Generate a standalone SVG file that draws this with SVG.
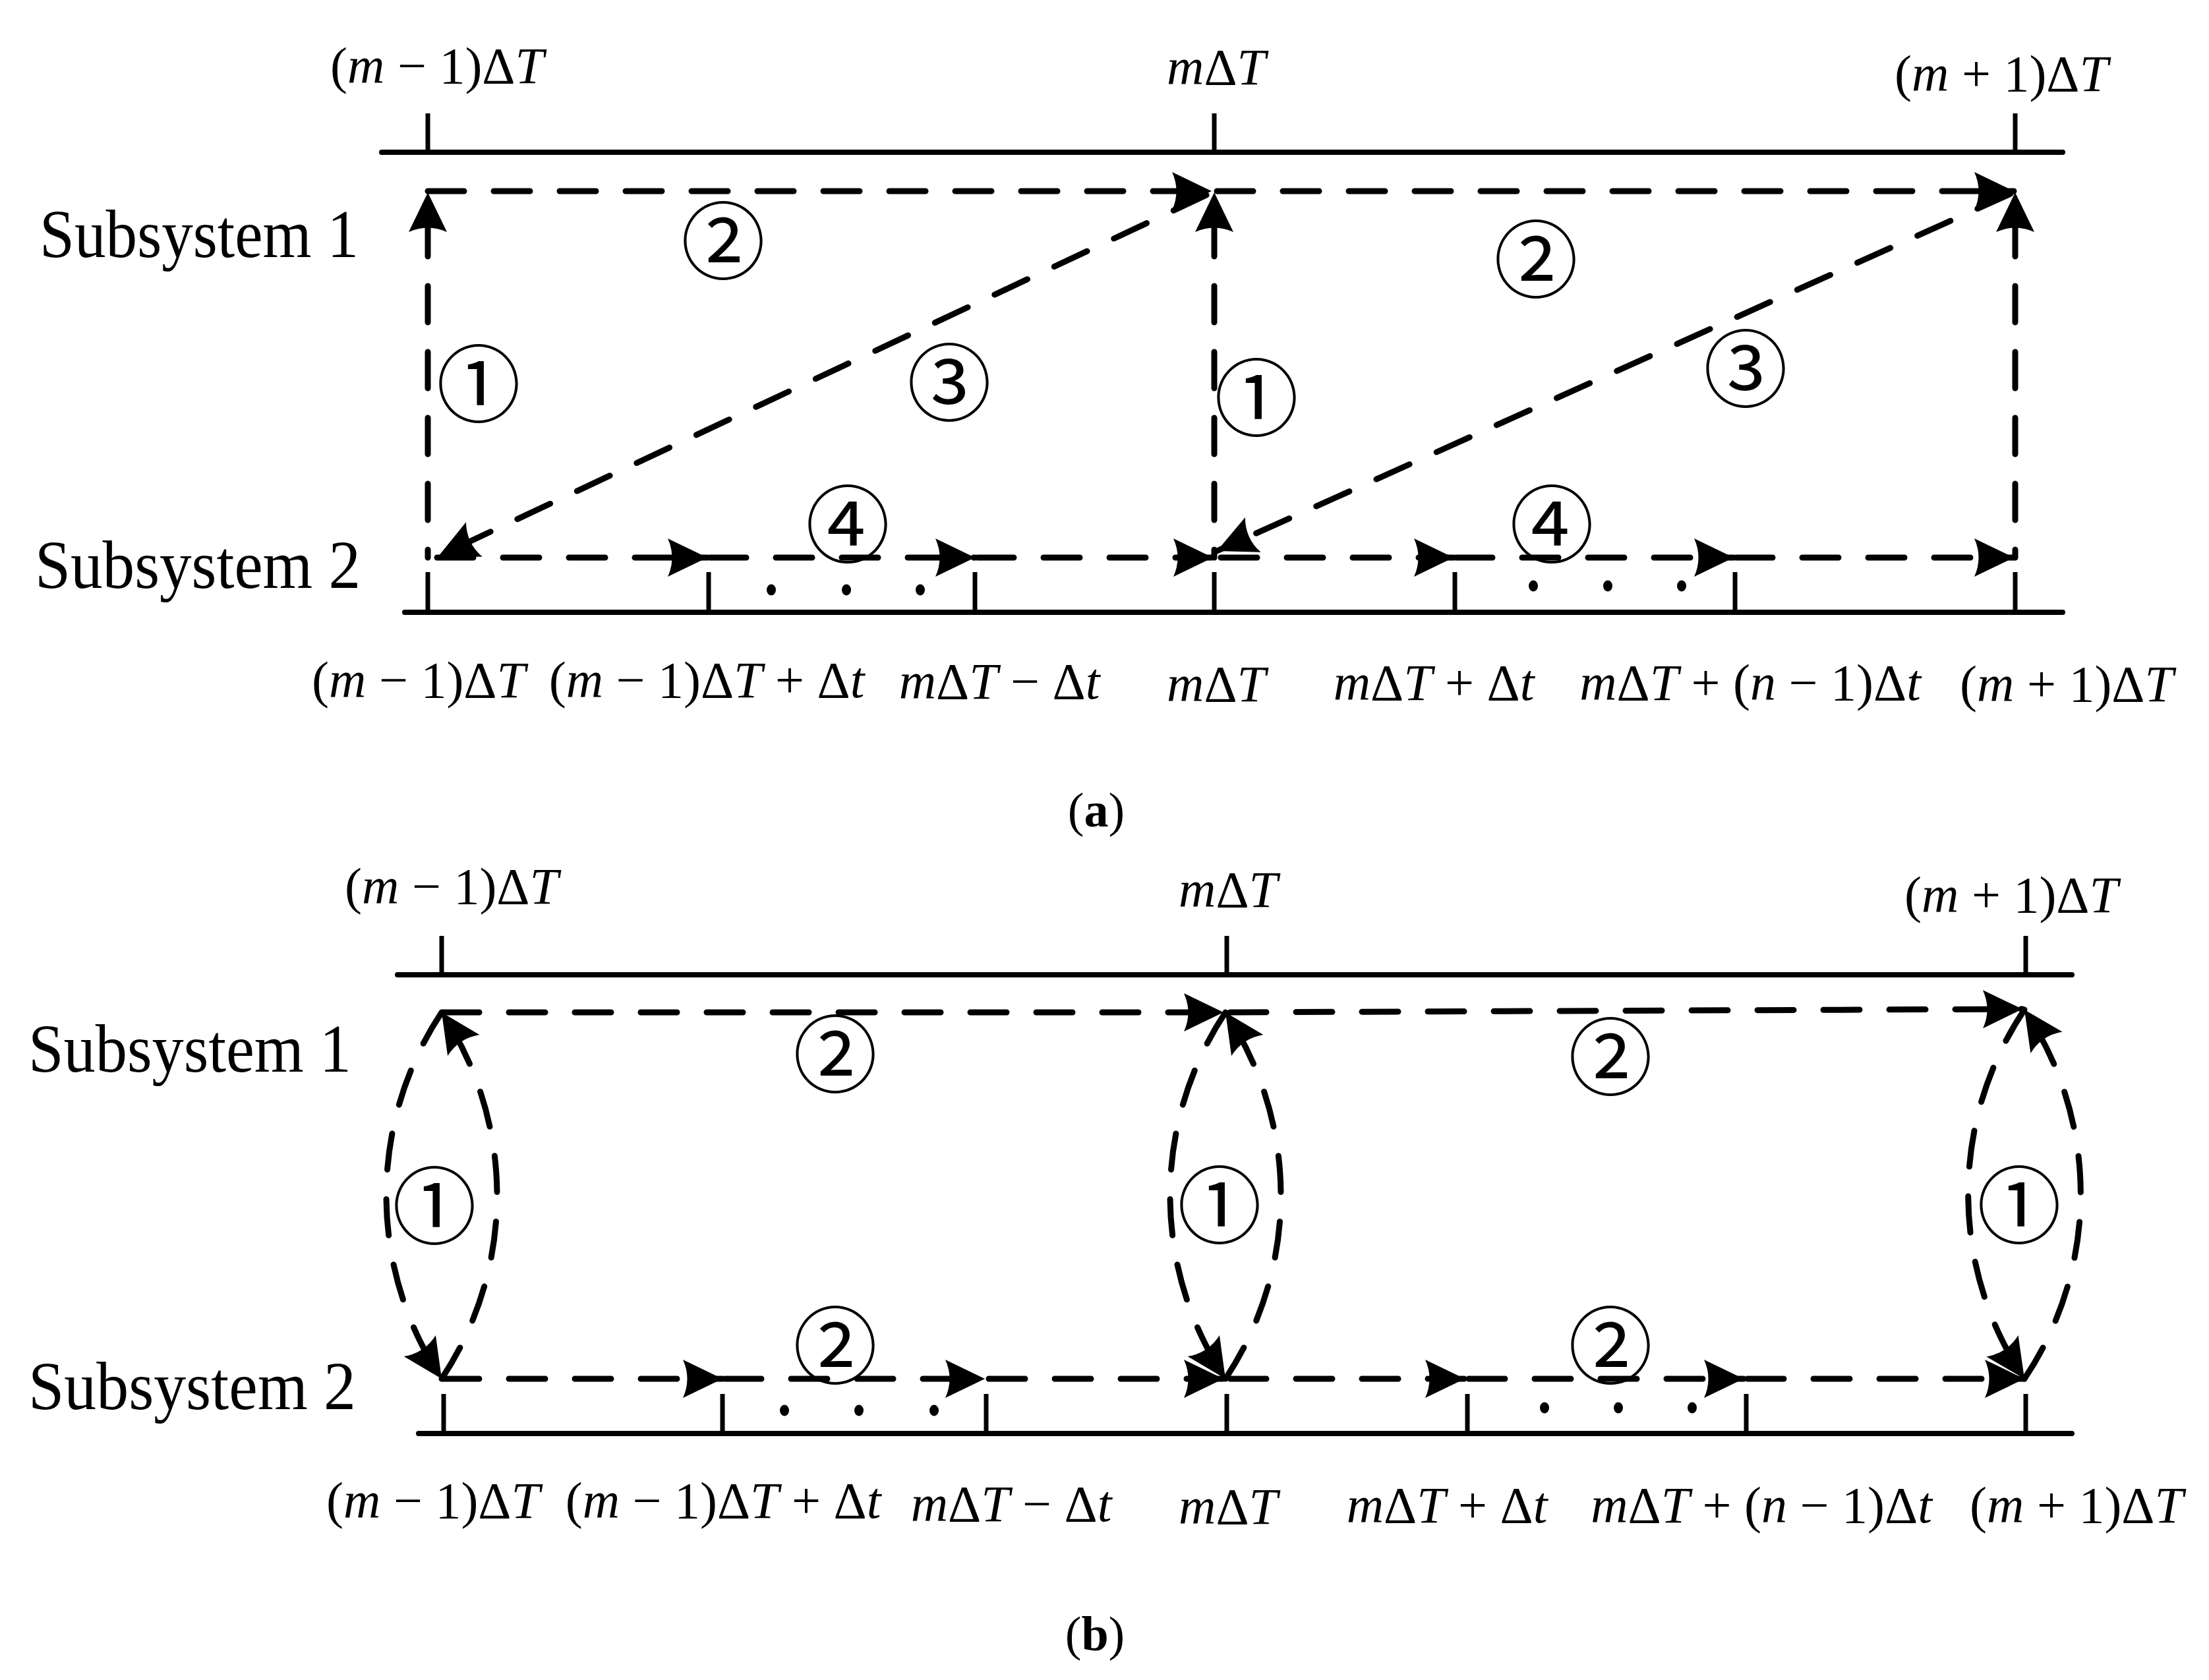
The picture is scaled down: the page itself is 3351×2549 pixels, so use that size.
<svg xmlns="http://www.w3.org/2000/svg" width="3351" height="2549" viewBox="0 0 3351 2549">
<style>
.ax{fill:none;stroke:#000;stroke-width:8;stroke-linecap:round}
.tk{fill:none;stroke:#000;stroke-width:7}
.d{fill:none;stroke:#000;stroke-width:9;stroke-dasharray:55 45;stroke-linecap:round;marker-end:url(#ah)}
.t{font-family:"Liberation Serif","Times New Roman",serif;font-size:78px;fill:#000;text-anchor:middle}
.it{font-style:italic}
.sub{font-family:"Liberation Serif","Times New Roman",serif;font-size:104px;fill:#000}
.cap{font-family:"Liberation Serif","Times New Roman",serif;font-size:74px;fill:#000;text-anchor:middle}
.n{font-family:"Noto Sans CJK SC","DejaVu Sans",sans-serif;font-size:128px;fill:#000;text-anchor:middle;dominant-baseline:central}
.dot{fill:#000}
</style>
<defs>
<marker id="ah" viewBox="-62 -31 64 62" markerWidth="64" markerHeight="62" refX="0" refY="0" orient="auto" markerUnits="userSpaceOnUse">
<path d="M0,0 L-60,-29 Q-47,0 -60,29 Z" fill="#000"/>
</marker>
</defs>
<rect width="3351" height="2549" fill="#fff"/>

<!-- ===== (a) ===== -->
<g id="a-axes">
<path class="ax" d="M579,231 H3129"/>
<path class="tk" d="M649,172 V231 M1842,172 V231 M3057,172 V231"/>
<path class="ax" d="M614,929 H3129"/>
<path class="tk" d="M649,868 V929 M1075,868 V929 M1479,868 V929 M1842,868 V929 M2207,868 V929 M2632,868 V929 M3057,868 V929"/>
</g>
<g id="a-top-labels">
<text class="t" x="663" y="126">(<tspan class="it">m</tspan> − 1)Δ<tspan class="it">T</tspan></text>
<text class="t" x="1845" y="128"><tspan class="it">m</tspan>Δ<tspan class="it">T</tspan></text>
<text class="t" x="3036" y="138">(<tspan class="it">m</tspan> + 1)Δ<tspan class="it">T</tspan></text>
</g>
<g id="a-subsystem1"><text class="sub" x="60" y="390" textLength="484" lengthAdjust="spacingAndGlyphs">Subsystem 1</text></g>
<g id="a-subsystem2"><text class="sub" x="53" y="892" textLength="494" lengthAdjust="spacingAndGlyphs">Subsystem 2</text></g>
<g id="a-bottom-labels">
<text class="t" x="635" y="1058">(<tspan class="it">m</tspan> − 1)Δ<tspan class="it">T</tspan></text>
<text class="t" x="1072" y="1058">(<tspan class="it">m</tspan> − 1)Δ<tspan class="it">T</tspan> + Δ<tspan class="it">t</tspan></text>
<text class="t" x="1516" y="1060"><tspan class="it">m</tspan>Δ<tspan class="it">T</tspan> − Δ<tspan class="it">t</tspan></text>
<text class="t" x="1845" y="1064"><tspan class="it">m</tspan>Δ<tspan class="it">T</tspan></text>
<text class="t" x="2175" y="1062"><tspan class="it">m</tspan>Δ<tspan class="it">T</tspan> + Δ<tspan class="it">t</tspan></text>
<text class="t" x="2655" y="1062"><tspan class="it">m</tspan>Δ<tspan class="it">T</tspan> + (<tspan class="it">n</tspan> − 1)Δ<tspan class="it">t</tspan></text>
<text class="t" x="3135" y="1064">(<tspan class="it">m</tspan> + 1)Δ<tspan class="it">T</tspan></text>
</g>
<g id="a-dots">
<ellipse class="dot" cx="1170" cy="895" rx="7" ry="8.5"/><ellipse class="dot" cx="1284" cy="895" rx="7" ry="8.5"/><ellipse class="dot" cx="1396" cy="895" rx="7" ry="8.5"/>
<ellipse class="dot" cx="2326" cy="889" rx="7" ry="8.5"/><ellipse class="dot" cx="2439" cy="889" rx="7" ry="8.5"/><ellipse class="dot" cx="2551" cy="889" rx="7" ry="8.5"/>
</g>
<g id="a-caption"><text class="cap" x="1663" y="1254">(<tspan font-weight="bold">a</tspan>)</text></g>

<g id="a-connectors">
<path class="d" d="M649,290 H1838"/>
<path class="d" d="M1846,290 H3055"/>
<path class="d" d="M649,846 V292" stroke-dashoffset="43"/>
<path class="d" d="M1842,846 V292" stroke-dashoffset="43"/>
<path class="d" d="M3057,846 V292" stroke-dashoffset="43"/>
<path class="d" d="M1830,296 L665,844"/>
<path class="d" d="M3050,294 L1846,836"/>
<path class="d" d="M663,846 H1073"/>
<path class="d" d="M1077,846 H1479"/>
<path class="d" d="M1483,846 H1840"/>
<path class="d" d="M1852,846 H2205"/>
<path class="d" d="M2209,846 H2630"/>
<path class="d" d="M2634,846 H3055"/>
</g>
<g id="a-step-labels">
<text class="n" x="1097" y="358">②</text>
<text class="n" x="2330" y="386">②</text>
<text class="n" x="726" y="575">①</text>
<text class="n" x="1906" y="596">①</text>
<text class="n" x="1440" y="573">③</text>
<text class="n" x="2648" y="552">③</text>
<text class="n" x="1286" y="788">④</text>
<text class="n" x="2354" y="788">④</text>
</g>

<!-- ===== (b) ===== -->
<g id="b-axes">
<path class="ax" d="M603,1479 H3143"/>
<path class="tk" d="M670,1420 V1479 M1861,1420 V1479 M3073,1420 V1479"/>
<path class="ax" d="M635,2175 H3143"/>
<path class="tk" d="M673,2115 V2175 M1096,2115 V2175 M1496,2115 V2175 M1861,2115 V2175 M2226,2115 V2175 M2649,2115 V2175 M3073,2115 V2175"/>
</g>
<g id="b-top-labels">
<text class="t" x="685" y="1371">(<tspan class="it">m</tspan> − 1)Δ<tspan class="it">T</tspan></text>
<text class="t" x="1863" y="1376"><tspan class="it">m</tspan>Δ<tspan class="it">T</tspan></text>
<text class="t" x="3051" y="1384">(<tspan class="it">m</tspan> + 1)Δ<tspan class="it">T</tspan></text>
</g>
<g id="b-subsystem1"><text class="sub" x="43" y="1626" textLength="490" lengthAdjust="spacingAndGlyphs">Subsystem 1</text></g>
<g id="b-subsystem2"><text class="sub" x="43" y="2138" textLength="497" lengthAdjust="spacingAndGlyphs">Subsystem 2</text></g>
<g id="b-bottom-labels">
<text class="t" x="657" y="2303">(<tspan class="it">m</tspan> − 1)Δ<tspan class="it">T</tspan></text>
<text class="t" x="1097" y="2303">(<tspan class="it">m</tspan> − 1)Δ<tspan class="it">T</tspan> + Δ<tspan class="it">t</tspan></text>
<text class="t" x="1534" y="2308"><tspan class="it">m</tspan>Δ<tspan class="it">T</tspan> − Δ<tspan class="it">t</tspan></text>
<text class="t" x="1863" y="2312"><tspan class="it">m</tspan>Δ<tspan class="it">T</tspan></text>
<text class="t" x="2195" y="2310"><tspan class="it">m</tspan>Δ<tspan class="it">T</tspan> + Δ<tspan class="it">t</tspan></text>
<text class="t" x="2672" y="2310"><tspan class="it">m</tspan>Δ<tspan class="it">T</tspan> + (<tspan class="it">n</tspan> − 1)Δ<tspan class="it">t</tspan></text>
<text class="t" x="3150" y="2310">(<tspan class="it">m</tspan> + 1)Δ<tspan class="it">T</tspan></text>
</g>
<g id="b-dots">
<ellipse class="dot" cx="1190" cy="2140" rx="7" ry="8.5"/><ellipse class="dot" cx="1303" cy="2140" rx="7" ry="8.5"/><ellipse class="dot" cx="1417" cy="2140" rx="7" ry="8.5"/>
<ellipse class="dot" cx="2343" cy="2136" rx="7" ry="8.5"/><ellipse class="dot" cx="2455" cy="2136" rx="7" ry="8.5"/><ellipse class="dot" cx="2567" cy="2136" rx="7" ry="8.5"/>
</g>
<g id="b-caption"><text class="cap" x="1661" y="2504">(<tspan font-weight="bold">b</tspan>)</text></g>

<g id="b-connectors">
<path class="d" d="M672,1536 H1856"/>
<path class="d" d="M1866,1536 L3068,1531"/>
<path class="d" d="M670,1536 A502,502 0 0,0 670,2092"/>
<path class="d" d="M670,2092 A502,502 0 0,0 670,1536"/>
<path class="d" d="M1859,1536 A502,502 0 0,0 1859,2092"/>
<path class="d" d="M1859,2092 A502,502 0 0,0 1859,1536"/>
<path class="d" d="M3071,1532 A502,502 0 0,0 3071,2092"/>
<path class="d" d="M3071,2092 A502,502 0 0,0 3071,1532"/>
<path class="d" d="M672,2092 H1096"/>
<path class="d" d="M1100,2092 H1494"/>
<path class="d" d="M1500,2092 H1856"/>
<path class="d" d="M1866,2092 H2222"/>
<path class="d" d="M2228,2092 H2645"/>
<path class="d" d="M2651,2092 H3071"/>
</g>
<g id="b-step-labels">
<text class="n" x="1267" y="1592">②</text>
<text class="n" x="2443" y="1596">②</text>
<text class="n" x="659" y="1822">①</text>
<text class="n" x="1850" y="1821">①</text>
<text class="n" x="3063" y="1821">①</text>
<text class="n" x="1267" y="2034">②</text>
<text class="n" x="2443" y="2034">②</text>
</g>
</svg>
